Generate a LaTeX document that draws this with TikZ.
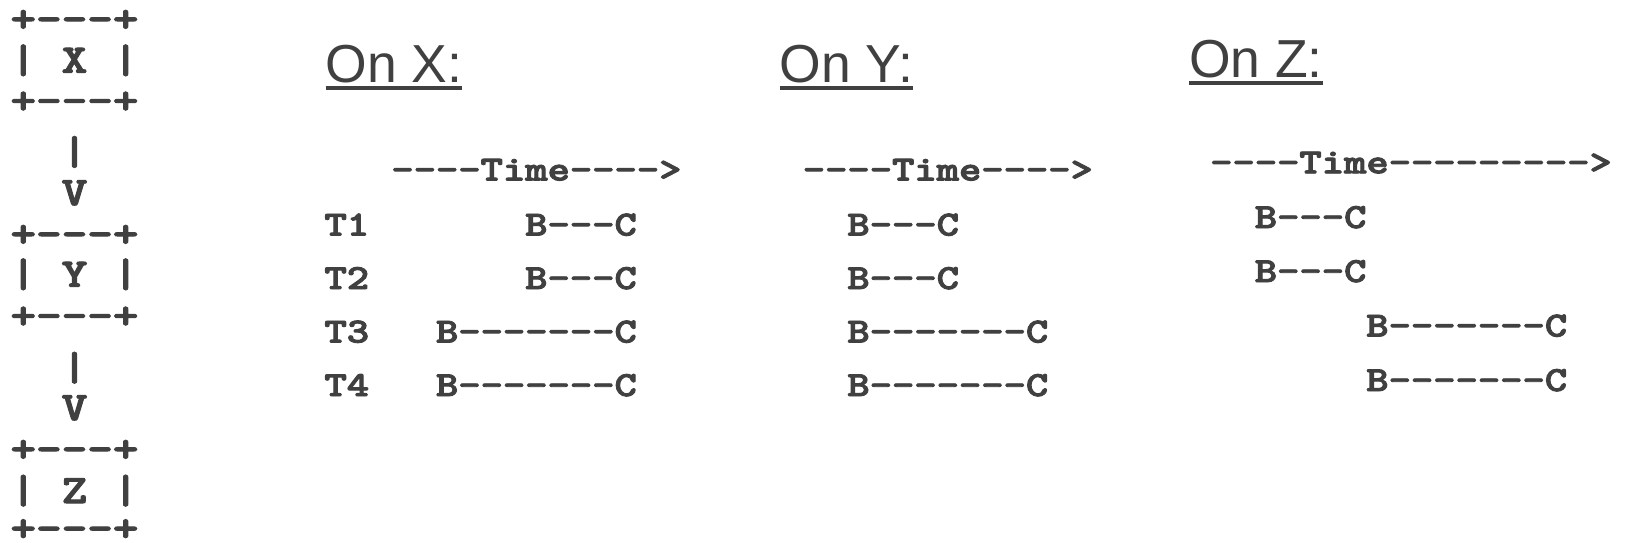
\documentclass[tikz,border=0pt]{standalone}
\usepackage{fontspec}
\usepackage{graphicx}
\newfontfamily\headfont{Liberation Sans}
\newfontfamily\monob{lmmonolt10-bold}[Extension=.otf, FakeBold=2.5]
\definecolor{ink}{HTML}{404040}
\newcommand{\vsq}[1]{\scalebox{1}[0.83]{#1}}
\tikzset{
  asc/.style={anchor=base west, inner sep=0pt, outer sep=0pt, text=ink,
    font=\monob\fontsize{42.5}{42.5}\selectfont},
  bigasc/.style={asc, font=\monob\fontsize{48.76}{48.76}\selectfont},
  head/.style={anchor=base west, inner sep=0pt, outer sep=0pt, text=ink,
    font=\headfont\fontsize{53.5}{53.5}\selectfont},
  uline/.style={draw=ink, line width=4pt}
}
\begin{document}
\begin{tikzpicture}[x=1pt,y=-1pt]
\useasboundingbox (0,0) rectangle (1628,543);
% left column
\node[bigasc] (l1)  at (10.5,31.7)  {\vsq{+-{}-{}-+}};
\node[bigasc] (l2)  at (10.5,72.7)  {\vsq{| X |}};
\node[bigasc] (l3)  at (10.5,113.4) {\vsq{+-{}-{}-+}};
\node[bigasc] (l4)  at (61.7,164.3) {\vsq{|}};
\node[bigasc] (l5)  at (61.7,205)   {\vsq{V}};
\node[bigasc] (l6)  at (10.5,246.7) {\vsq{+-{}-{}-+}};
\node[bigasc] (l7)  at (10.5,286.7) {\vsq{| Y |}};
\node[bigasc] (l8)  at (10.5,328.4) {\vsq{+-{}-{}-+}};
\node[bigasc] (l9)  at (61.7,380.1) {\vsq{|}};
\node[bigasc] (l10) at (61.7,420)   {\vsq{V}};
\node[bigasc] (l11) at (10.5,461.7) {\vsq{+-{}-{}-+}};
\node[bigasc] (l12) at (10.5,503)   {\vsq{| Z |}};
\node[bigasc] (l13) at (10.5,541)   {\vsq{+-{}-{}-+}};
% headings
\node[head] (hx) at (325.7,82.7) {On X:};
\node[head] (hy) at (779.5,82.7) {On Y:};
\node[head] (hz) at (1189,77.3) {On Z:};
\draw[uline] ([yshift=-5.3pt]hx.base west) -- ([yshift=-5.3pt]hx.base east);
\draw[uline] ([yshift=-5.3pt]hy.base west) -- ([yshift=-5.3pt]hy.base east);
\draw[uline] ([yshift=-5.5pt]hz.base west) -- ([yshift=-5.5pt]hz.base east);
% block X
\node[asc] (xt)  at (391.4,180.5) {\vsq{-{}-{}-{}-Time-{}-{}-{}->}};
\node[asc] (xl1) at (324.5,235.5) {\vsq{T1}};
\node[asc] (xl2) at (324.5,289)   {\vsq{T2}};
\node[asc] (xl3) at (324.5,342.5) {\vsq{T3}};
\node[asc] (xl4) at (324.5,396)   {\vsq{T4}};
\node[asc] (xb1) at (525.2,235.5) {\vsq{B-{}-{}-C}};
\node[asc] (xb2) at (525.2,289)   {\vsq{B-{}-{}-C}};
\node[asc] (xb3) at (436,342.5)   {\vsq{B-{}-{}-{}-{}-{}-{}-C}};
\node[asc] (xb4) at (436,396)     {\vsq{B-{}-{}-{}-{}-{}-{}-C}};
% block Y
\node[asc] (yt)  at (802.8,180.5) {\vsq{-{}-{}-{}-Time-{}-{}-{}->}};
\node[asc] (yb1) at (847.4,235.5) {\vsq{B-{}-{}-C}};
\node[asc] (yb2) at (847.4,289)   {\vsq{B-{}-{}-C}};
\node[asc] (yb3) at (847.4,342.5) {\vsq{B-{}-{}-{}-{}-{}-{}-C}};
\node[asc] (yb4) at (847.4,396)   {\vsq{B-{}-{}-{}-{}-{}-{}-C}};
% block Z
\node[asc] (zt)  at (1210.2,173.3) {\vsq{-{}-{}-{}-Time-{}-{}-{}-{}-{}-{}-{}-{}->}};
\node[asc] (zb1) at (1254.8,228)   {\vsq{B-{}-{}-C}};
\node[asc] (zb2) at (1254.8,282)   {\vsq{B-{}-{}-C}};
\node[asc] (zb3) at (1366.3,336.5) {\vsq{B-{}-{}-{}-{}-{}-{}-C}};
\node[asc] (zb4) at (1366.3,391)   {\vsq{B-{}-{}-{}-{}-{}-{}-C}};
\end{tikzpicture}
\end{document}
